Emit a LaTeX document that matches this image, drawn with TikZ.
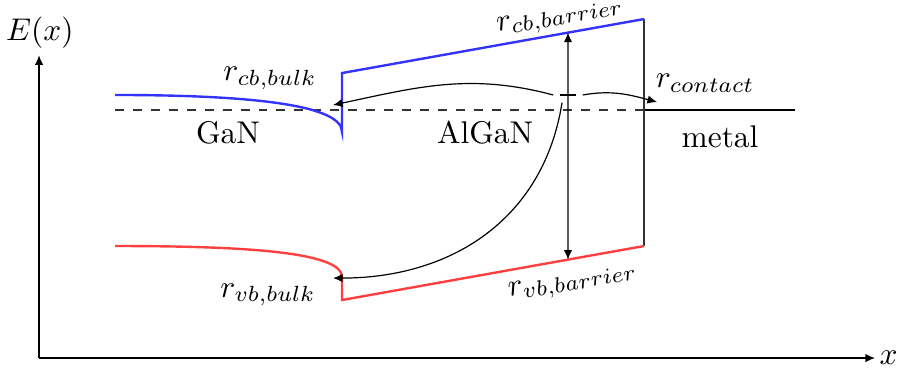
\documentclass[tikz,border=0pt]{standalone}
\usepackage{amsmath}
\usepackage{tikz}
\usetikzlibrary{arrows.meta,positioning,calc}
\definecolor{cbcol}{HTML}{3333FF}
\definecolor{vbcol}{HTML}{FF4040}
\tikzset{
  axis/.style    = {-{Latex[length=3.2pt,width=2.8pt]}},
  cbline/.style  = {draw=cbcol,thick},
  vbline/.style  = {draw=vbcol,thick},
  fermi/.style   = {dashed,draw=black!80},
  rate/.style    = {-{Latex[length=3.2pt,width=2.8pt]}},
  trapmark/.style= {fill=black,inner sep=0pt,minimum width=1.9mm,
                    minimum height=0.9pt,outer sep=2pt},
  lbl/.style     = {inner sep=1pt},
}

\begin{document}
\begin{tikzpicture}[every node/.append style={scale=1.05}]
  \useasboundingbox (-0.459,-0.247) rectangle (10.136,4.210);
  % axes
  \coordinate (o) at (0,0);
  \coordinate (ytop) at (0,3.56);
  \coordinate (xend) at (9.83,0);
  \draw[axis] (o) -- (ytop);
  \draw[axis] (o) -- (xend);
  \node (elab) at (0.01,3.83) {$E(x)$};
  \node (xlab) at (9.99,0.0) {$x$};
  % band corners
  \coordinate (cb0) at (0.894,3.093);
  \coordinate (cbA) at (3.563,2.658);
  \coordinate (cbB) at (3.563,3.351);
  \coordinate (cbC) at (7.114,3.986);
  \coordinate (vb0) at (0.894,1.317);
  \coordinate (vbA) at (3.563,0.952);
  \coordinate (vbB) at (3.563,0.682);
  \coordinate (vbC) at (7.114,1.317);
  % fermi level and metal
  \coordinate (ef0) at (0.894,2.916);
  \coordinate (efm) at (7.114,2.916);
  \coordinate (ef1) at (8.890,2.916);
  \draw[fermi] (ef0) -- (efm);
  \draw[thick] (efm) -- (ef1);
  \draw[black!80] (cbC) -- (vbC);
  % bands
  \draw[cbline] (cb0) .. controls (2.4,3.093) and (3.563,2.99) .. (cbA)
    -- (cbB) -- (cbC);
  \draw[vbline] (vb0) .. controls (2.4,1.317) and (3.563,1.25) .. (vbA)
    -- (vbB) -- (vbC);
  % trap and rates
  \node[trapmark] (t) at (6.22,3.093) {};
  \coordinate (cbhit) at ($(cbB)!0.7483!(cbC)$);
  \coordinate (vbhit) at ($(vbB)!0.7483!(vbC)$);
  \coordinate (cbbulk) at (3.457,2.975);
  \coordinate (vbbulk) at (3.457,0.940);
  \coordinate (metin) at (7.267,3.010);
  \draw[rate] (t.center) -- (cbhit);
  \draw[rate] (t.center) -- (vbhit);
  \draw[rate] (t.west) to[out=165,in=12] (cbbulk);
  \draw[rate] (t.east) to[out=10,in=165] (metin);
  \draw[rate] ([xshift=-0.07cm]t.south) to[out=-99,in=0,looseness=1.05] (vbbulk);
  % labels
  \node[lbl,rotate=10] (rcbbar) at (6.13,4.0) {$r_{cb,barrier}$};
  \node[lbl] (rcbbulk) at (2.716,3.292) {$r_{cb,bulk}$};
  \node[lbl] (rcont) at (7.832,3.234) {$r_{contact}$};
  \node[lbl,rotate=10] (rvbbar) at (6.279,0.88) {$r_{vb,barrier}$};
  \node[lbl] (rvbbulk) at (2.693,0.741) {$r_{vb,bulk}$};
  \node (gan) at (2.222,2.646) {GaN};
  \node (algan) at (5.245,2.646) {AlGaN};
  \node (metal) at (8.008,2.60) {metal};
\end{tikzpicture}
\end{document}
